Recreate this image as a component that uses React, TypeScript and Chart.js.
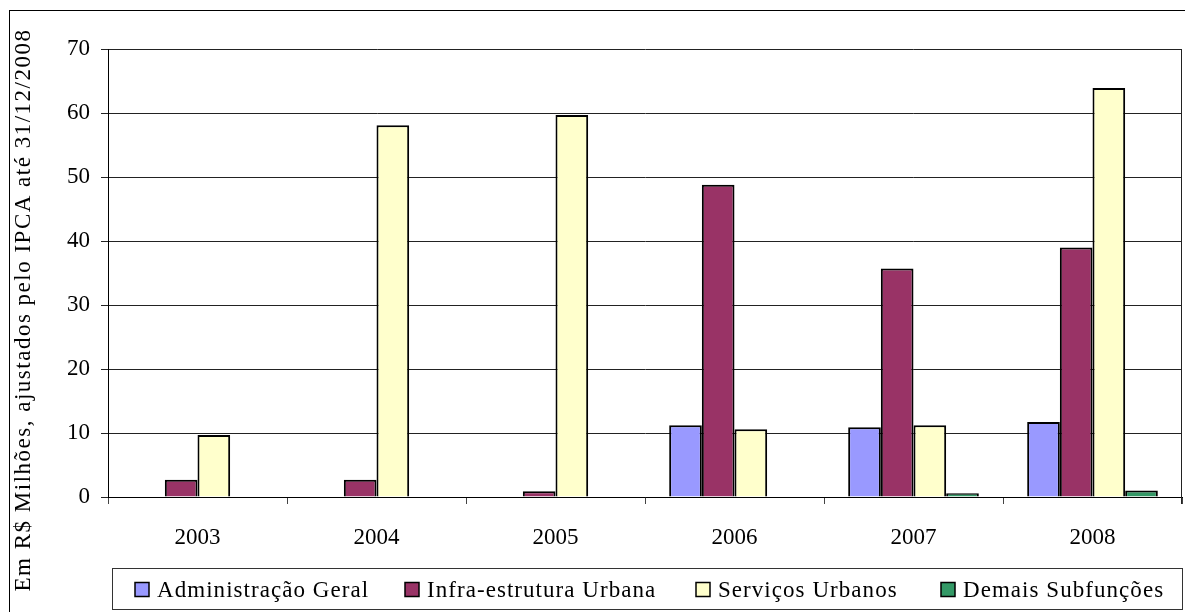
import React, { useEffect, useRef } from "react";
import { Chart, registerables } from "chart.js";

Chart.register(...registerables);

// Despesas por subfunção, em R$ milhões (valores corrigidos pelo IPCA)
const anos = ["2003", "2004", "2005", "2006", "2007", "2008"];
const administracaoGeral = [null, null, null, 11.2, 10.9, 11.7];
const infraEstruturaUrbana = [2.7, 2.7, 0.9, 48.8, 35.7, 39.0];
const servicosUrbanos = [9.7, 58.1, 59.7, 10.6, 11.2, 63.9];
const demaisSubfuncoes = [null, null, null, null, 0.6, 1.0];

const tituloEixoY = "Em R$ Milhões, ajustados pelo IPCA até 31/12/2008";
const yMin = 0;
const yMax = 70;
const yPasso = 10;

const FONT = "'Liberation Serif', 'Times New Roman', serif";
const W = 1185;
const H = 612;

// left edge of each legend swatch
const LEGENDA_X = [135, 405, 696, 941];

// Frame, rotated axis title, plot-area edge and boxed legend
const moldura = {
  id: "moldura",
  afterDraw(chart: any) {
    const ctx = chart.ctx as CanvasRenderingContext2D;
    const area = chart.chartArea;
    ctx.save();

    // outer chart frame
    ctx.strokeStyle = "#000";
    ctx.lineWidth = 1;
    ctx.strokeRect(9.5, 10.5, W + 20, H + 20);

    // right edge of the plot area (runs down to the tick length)
    ctx.strokeStyle = "#222";
    ctx.beginPath();
    ctx.moveTo(Math.round(area.right) - 0.5, area.top);
    ctx.lineTo(Math.round(area.right) - 0.5, area.bottom + 7);
    ctx.stroke();

    // y-axis title
    ctx.save();
    ctx.translate(24, 310);
    ctx.rotate(-Math.PI / 2);
    ctx.font = `23px ${FONT}`;
    (ctx as any).letterSpacing = "1.5px";
    ctx.fillStyle = "#000";
    ctx.textAlign = "center";
    ctx.textBaseline = "middle";
    ctx.fillText(tituloEixoY, 0, 0);
    ctx.restore();

    // legend box
    const lx = 112;
    const ly = 568;
    const lw = 1182 - 112;
    const lh = 41;
    ctx.strokeStyle = "#333";
    ctx.lineWidth = 1;
    ctx.strokeRect(lx + 0.5, ly + 0.5, lw, lh);

    ctx.font = `23px ${FONT}`;
    (ctx as any).letterSpacing = "1.05px";
    ctx.textAlign = "left";
    ctx.textBaseline = "middle";
    const cy = 589.5;
    chart.data.datasets.forEach((ds: any, i: number) => {
      const x = LEGENDA_X[i];
      ctx.fillStyle = ds.backgroundColor;
      ctx.fillRect(x, cy - 7, 14, 14);
      ctx.strokeStyle = "#000";
      ctx.lineWidth = 1.5;
      ctx.strokeRect(x, cy - 7, 14, 14);
      ctx.fillStyle = "#000";
      ctx.fillText(ds.label, x + 22, cy + 1);
    });

    ctx.restore();
  },
};

export default function App() {
  const ref = useRef<HTMLCanvasElement | null>(null);

  useEffect(() => {
    if (!ref.current) return;
    const serie = (label: string, data: (number | null)[], cor: string) => ({
      label,
      data,
      backgroundColor: cor,
      borderColor: "#000",
      borderWidth: 2,
      categoryPercentage: 0.73,
      barPercentage: 1,
    });

    const chart = new Chart(ref.current, {
      type: "bar",
      data: {
        labels: anos,
        datasets: [
          serie("Administração Geral", administracaoGeral, "#9999FF"),
          serie("Infra-estrutura Urbana", infraEstruturaUrbana, "#993366"),
          serie("Serviços Urbanos", servicosUrbanos, "#FFFFCC"),
          serie("Demais Subfunções", demaisSubfuncoes, "#339966"),
        ],
      },
      options: {
        responsive: false,
        animation: false,
        devicePixelRatio: 1,
        layout: { padding: { top: 49, right: 3, left: 0, bottom: 0 } },
        plugins: {
          legend: { display: false },
          title: { display: false },
          tooltip: { enabled: false },
        },
        scales: {
          x: {
            afterFit: (scale: any) => {
              scale.height = H - 497;
            },
            grid: {
              drawOnChartArea: false,
              drawTicks: true,
              tickLength: 7,
              color: "#444",
            },
            border: { display: true, color: "#000", width: 1 },
            ticks: {
              color: "#000",
              font: { family: FONT, size: 23 },
              padding: 20,
              maxRotation: 0,
            },
          },
          y: {
            min: yMin,
            max: yMax,
            afterFit: (scale: any) => {
              scale.width = 108;
            },
            grid: {
              color: "#222",
              lineWidth: 1,
              drawTicks: true,
              tickLength: 7,
            },
            border: { display: true, color: "#000", width: 1 },
            ticks: {
              stepSize: yPasso,
              color: "#000",
              font: { family: FONT, size: 23 },
              padding: 11,
            },
          },
        },
      },
      plugins: [moldura],
    });

    return () => chart.destroy();
  }, []);

  return (
    <div style={{ position: "fixed", left: 0, top: 0, width: W, height: H, background: "#fff" }}>
      <canvas ref={ref} width={W} height={H} style={{ display: "block", width: W, height: H }} />
    </div>
  );
}
